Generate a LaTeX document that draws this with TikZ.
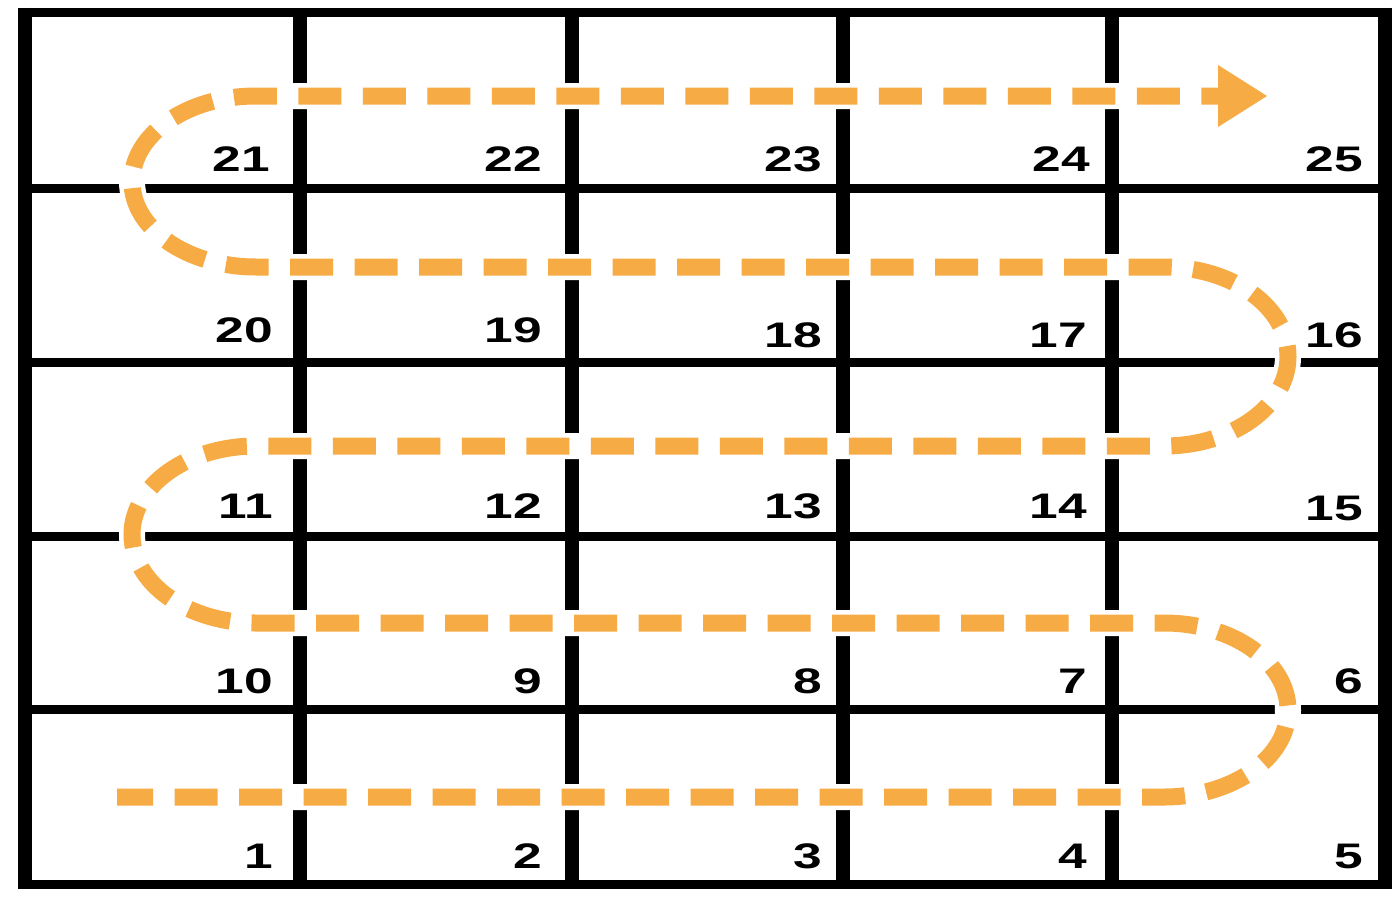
\documentclass[tikz,border=0pt]{standalone}
\usepackage{fontspec}
\usetikzlibrary{arrows.meta}
\newfontfamily\CellFont[FakeStretch=1.45]{Liberation Sans}
\definecolor{pathorange}{HTML}{F7AB45}
\newcommand{\CellNum}[3]{%
  \node[cellnum] (n#3) at (#1,#2) {#3};
}

\begin{document}
\begin{tikzpicture}[x=1pt,y=-1pt,
  cellnum/.style={anchor=base east,inner sep=0pt,text=black,
    font=\CellFont\bfseries\fontsize{35.5}{36}\selectfont},
  colline/.style={draw=black,line width=14pt,line cap=butt},
  rowline/.style={draw=black,line width=9pt,line cap=butt},
  snake/.style={draw=pathorange,line width=17pt,
    dash pattern=on 43pt off 21.5pt,dash phase=7pt,
    preaction={draw=white,line width=26pt,solid,-}}]
  \useasboundingbox (0,0) rectangle (1400,900);
  % board
  \draw[rowline] (18,12) -- (1392,12);
  \draw[rowline] (18,884) -- (1392,884);
  \draw[colline] (25,7.5) -- (25,888.5);
  \draw[colline] (1385,7.5) -- (1385,888.5);
  \draw[colline] (300,12) -- (300,884);
  \draw[colline] (572,12) -- (572,884);
  \draw[colline] (843,12) -- (843,884);
  \draw[colline] (1112,12) -- (1112,884);
  \draw[rowline] (25,188) -- (1385,188);
  \draw[rowline] (25,362) -- (1385,362);
  \draw[rowline] (25,536) -- (1385,536);
  \draw[rowline] (25,709) -- (1385,709);
  % squares
  \CellNum{273}{868}{1}
  \CellNum{542}{868}{2}
  \CellNum{822}{868}{3}
  \CellNum{1087}{868}{4}
  \CellNum{1363}{868}{5}
  \CellNum{1363}{693}{6}
  \CellNum{1087}{693}{7}
  \CellNum{822}{693}{8}
  \CellNum{542}{693}{9}
  \CellNum{273}{693}{10}
  \CellNum{273}{518}{11}
  \CellNum{542}{518}{12}
  \CellNum{822}{518}{13}
  \CellNum{1087}{518}{14}
  \CellNum{1363}{520}{15}
  \CellNum{1363}{347}{16}
  \CellNum{1087}{347}{17}
  \CellNum{822}{347}{18}
  \CellNum{542}{342}{19}
  \CellNum{273}{342}{20}
  \CellNum{270}{171}{21}
  \CellNum{542}{171}{22}
  \CellNum{822}{171}{23}
  \CellNum{1090}{171}{24}
  \CellNum{1363}{171}{25}
  % route through the board
  \draw[snake,-{Triangle[length=49pt,width=62pt,line width=0pt]}]
    (117,797) -- (1164,797)
    arc[start angle=-90,end angle=90,x radius=124pt,y radius=87pt]
    -- (256,623)
    arc[start angle=270,end angle=90,x radius=124pt,y radius=88.5pt]
    -- (1164,446)
    arc[start angle=-90,end angle=90,x radius=124pt,y radius=89.5pt]
    -- (256,267)
    arc[start angle=270,end angle=90,x radius=124pt,y radius=85.5pt]
    -- (1267,96);
\end{tikzpicture}
\end{document}
